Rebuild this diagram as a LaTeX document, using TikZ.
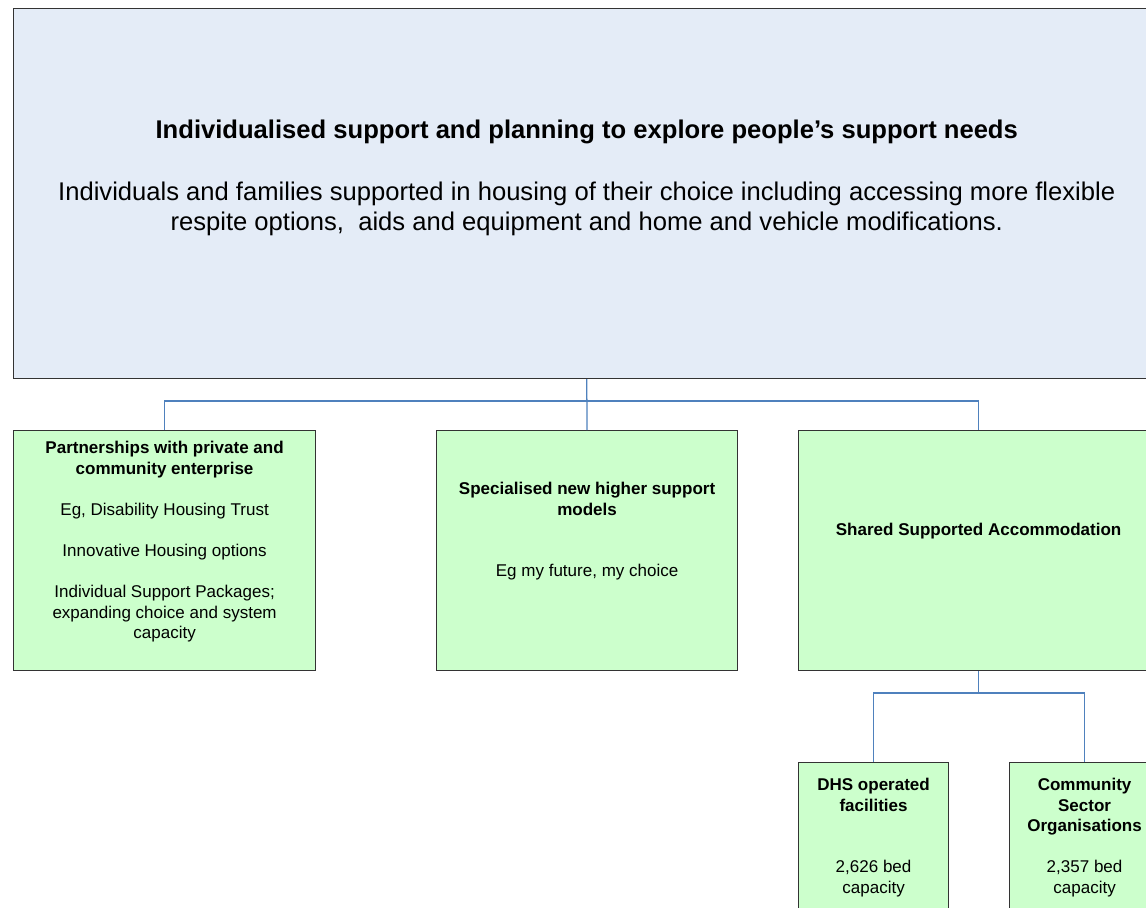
\documentclass[tikz,border=0pt]{standalone}
\usepackage{fontspec}
\setmainfont{Liberation Sans}
\usetikzlibrary{positioning}
\definecolor{topblue}{RGB}{228,236,247}
\definecolor{boxgreen}{RGB}{204,255,204}
\definecolor{linkblue}{RGB}{79,129,189}
\begin{document}
\begin{tikzpicture}[x=0.025cm,y=-0.025cm,
		box/.style={draw=black!80,line width=0.8pt,fill=boxgreen,inner sep=0pt,anchor=north west},
		txt/.style={align=center,inner sep=0pt,font=\fontsize{12.1}{14.6}\selectfont},
		link/.style={draw=linkblue,line width=0.9pt}]
		\clip (0,0) rectangle (1146,908);
		
		\node[box,fill=topblue,minimum width=28.65cm,minimum height=9.25cm] (needs) at (13,8) {};
		\node[box,minimum width=7.55cm,minimum height=6cm] (partners) at (13,430) {};
		\node[box,minimum width=7.525cm,minimum height=6cm] (models) at (436,430) {};
		\node[box,minimum width=9cm,minimum height=6cm] (shared) at (798,430) {};
		\node[box,minimum width=3.75cm,minimum height=5cm] (dhs) at (798,762) {};
		\node[box,minimum width=3.75cm,minimum height=5cm] (cso) at (1009,762) {};
		
		\node[txt,font=\fontsize{18.2}{21.3}\selectfont,below=2.8cm of needs.north] (needstext)
			{{\bfseries Individualised support and planning to explore people’s support needs}\\ ~ \\[1.4pt]
			Individuals and families supported in housing of their choice including accessing more flexible\\
			respite options, \ aids and equipment and home and vehicle modifications.};
		\node[txt,below=0.28cm of partners.north] (partnerstext)
			{{\bfseries Partnerships with private and}\\{\bfseries community enterprise}\\ ~ \\
			Eg, Disability Housing Trust\\ ~ \\ Innovative Housing options\\ ~ \\
			Individual Support Packages;\\ expanding choice and system\\ capacity};
		\node[txt,below=1.3cm of models.north] (modelstext)
			{{\bfseries Specialised new higher support}\\{\bfseries models}\\ ~ \\ ~ \\ Eg my future, my choice};
		\node[txt,below=2.33cm of shared.north] (sharedtext) {\bfseries Shared Supported Accommodation};
		\node[txt,below=0.4cm of dhs.north] (dhstext)
			{{\bfseries DHS operated}\\{\bfseries facilities}\\ ~ \\ ~ \\ 2,626 bed\\ capacity};
		\node[txt,below=0.4cm of cso.north] (csotext)
			{{\bfseries Community}\\{\bfseries Sector}\\{\bfseries Organisations}\\ ~ \\ 2,357 bed\\ capacity};
		
		\coordinate (split1) at (needs.south |- 0,401);
		\coordinate (split2) at (shared.south |- 0,693);
		\draw[link] (needs.south) -- (models.north);
		\draw[link] (partners.north) |- (split1) -| (shared.north);
		\draw[link] (shared.south) -- (split2);
		\draw[link] (dhs.north) |- (split2) -| (cso.north);
	\end{tikzpicture}
\end{document}
